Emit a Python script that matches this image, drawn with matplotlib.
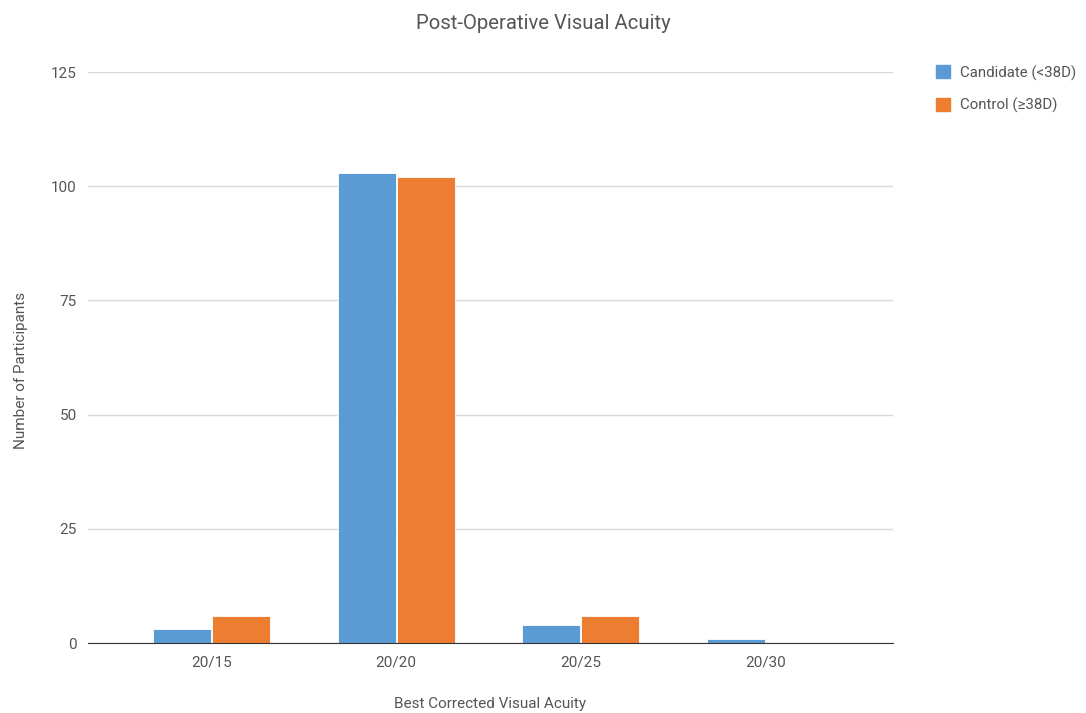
import numpy as np
import matplotlib
matplotlib.use('Agg')
import matplotlib.pyplot as plt
from matplotlib.patches import Patch

plt.rcParams['font.family'] = ['Roboto', 'DejaVu Sans']

categories = ['20/15', '20/20', '20/25', '20/30']
candidate = [3, 103, 4, 1]
control = [6, 102, 6, 0]
series_names = ['Candidate (<38D)', 'Control (\u226538D)']
colors = ['#5b9bd5', '#ed7d31']

fig = plt.figure(figsize=(10.86, 7.13), dpi=100)
ax = fig.add_axes([0.081, 0.098, 0.741, 0.801])

x = np.arange(len(categories))
w = 0.315
ax.bar(x - w/2 - 0.003, candidate, w, color=colors[0], edgecolor='white', linewidth=0.6, zorder=3)
ax.bar(x + w/2 + 0.003, control, w, color=colors[1], edgecolor='white', linewidth=0.6, zorder=3)

ax.set_xlim(-0.67, 3.69)
ax.set_ylim(0, 125)
ax.set_yticks([0, 25, 50, 75, 100, 125])
ax.set_xticks(x)
ax.set_xticklabels(categories)
ax.yaxis.grid(True, color='#d9d9d9', linewidth=1, zorder=0)
for s in ['top', 'right', 'left']:
    ax.spines[s].set_visible(False)
ax.spines['bottom'].set_color('#333333')
ax.spines['bottom'].set_zorder(4)
ax.tick_params(length=0, labelsize=11, labelcolor='#555555')
ax.tick_params(axis='x', pad=9)
ax.tick_params(axis='y', pad=8)

fig.text(0.5, 0.967, 'Post-Operative Visual Acuity', ha='center', va='center',
         fontsize=14.6, color='#555555')
fig.text(0.451, 0.013, 'Best Corrected Visual Acuity', ha='center', va='center',
         fontsize=11, color='#555555')
fig.text(0.019, 0.481, 'Number of Participants', ha='center', va='center',
         rotation=90, fontsize=11, color='#555555')

handles = [Patch(color=c) for c in colors]
leg = fig.legend(handles, series_names, loc='upper left', bbox_to_anchor=(0.856, 0.917),
                 frameon=False, fontsize=10.8, handlelength=0.95, handleheight=0.95,
                 labelspacing=1.12, handletextpad=0.7, borderaxespad=0)
for t in leg.get_texts():
    t.set_color('#555555')

fig.savefig('out.png', dpi=100)
